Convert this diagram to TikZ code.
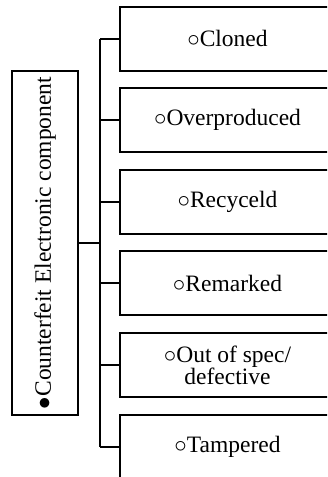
\documentclass[tikz,border=0pt]{standalone}
\usepackage{fontspec}
\setmainfont{Liberation Serif}
\begin{document}
\begin{tikzpicture}[x=1pt,y=-1pt,
  line width=2pt,
  txt/.style={font=\fontsize{23.5}{25}\selectfont, text=black, align=center, inner sep=0pt},
  catbox/.style={txt, draw, minimum width=215pt, minimum height=64pt},
  mainbox/.style={draw, minimum width=66pt, minimum height=344pt, inner sep=0pt}]
\clip (0,0) rectangle (327,477);
\node[mainbox] (main) at (45,243) {};
\node[txt, rotate=90] (maintxt) at (main.center) {$\bullet$Counterfeit Electronic component};
\node[catbox] (b1) at (227.5,38.5) {$\circ$Cloned};
\node[catbox] (b2) at (227.5,120.1) {$\circ$Overproduced};
\node[catbox] (b3) at (227.5,201.7) {$\circ$Recyceld};
\node[catbox] (b4) at (227.5,283.3) {$\circ$Remarked};
\node[catbox] (b5) at (227.5,364.9) {$\circ$Out of spec/\\[-3pt]defective};
\node[catbox] (b6) at (227.5,446.5) {$\circ$Tampered};
\draw (main.east) -- ++(21,0) coordinate (j);
\draw (j |- b1.west) -- (j |- b6.west);
\foreach \b in {b1,b2,b3,b4,b5,b6}{
  \draw (j |- \b.west) -- (\b.west);
}
\end{tikzpicture}
\end{document}
